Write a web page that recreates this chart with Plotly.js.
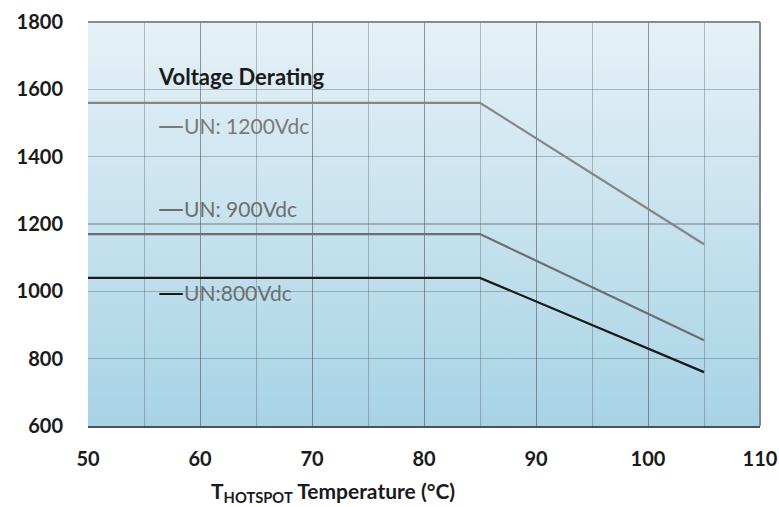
<!DOCTYPE html>
<html>
<head>
<meta charset="utf-8">
<script src="https://cdn.plot.ly/plotly-3.0.1.min.js"></script>
<style>html,body{margin:0;padding:0;background:#fff;}#chart{width:779px;height:507px;}</style>
</head>
<body>
<div id="chart"></div>
<script>
// Data
const temperature = [50, 85, 105];
const un1200 = [1560, 1560, 1140];
const un900 = [1170, 1170, 855];
const un800 = [1040, 1040, 760];
const xTicks = [50, 60, 70, 80, 90, 100, 110];
const yTicks = [600, 800, 1000, 1200, 1400, 1600, 1800];

const FONT = 'Lato, "Open Sans", sans-serif';

const svg = '<svg xmlns="http://www.w3.org/2000/svg" width="10" height="100" preserveAspectRatio="none">' +
  '<defs><linearGradient id="g" x1="0" y1="0" x2="0" y2="1">' +
  '<stop offset="0" stop-color="#e6f1f7"/><stop offset="1" stop-color="#a7d3e6"/>' +
  '</linearGradient></defs><rect width="10" height="100" fill="url(#g)"/></svg>';
const bg = 'data:image/svg+xml;charset=utf-8,' + encodeURIComponent(svg);

const traces = [
  {x: temperature, y: un1200, mode: 'lines', line: {color: '#858585', width: 2.2}, name: 'UN: 1200Vdc'},
  {x: temperature, y: un900, mode: 'lines', line: {color: '#6e6e6e', width: 2.2}, name: 'UN: 900Vdc'},
  {x: temperature, y: un800, mode: 'lines', line: {color: '#1a1a1a', width: 2.2}, name: 'UN:800Vdc'}
];

const DASH = '<span style="font-family:\'DejaVu Sans\';font-size:26px">—</span>';

const layout = {
  width: 779, height: 507,
  margin: {l: 88, r: 19, t: 22, b: 81},
  paper_bgcolor: '#ffffff',
  plot_bgcolor: 'rgba(0,0,0,0)',
  showlegend: false,
  font: {family: FONT, color: '#1a1a1a'},
  images: [{source: bg, xref: 'paper', yref: 'paper', x: 0, y: 1, sizex: 1, sizey: 1,
            sizing: 'stretch', xanchor: 'left', yanchor: 'top', layer: 'below'}],
  xaxis: {
    range: [50, 110], tickmode: 'array', tickvals: xTicks, ticktext: xTicks.map(String),
    showgrid: true, gridcolor: 'rgba(80,80,80,0.35)', gridwidth: 1,
    minor: {dtick: 5, tick0: 50, showgrid: true, gridcolor: 'rgba(80,80,80,0.35)', gridwidth: 1},
    zeroline: false, showline: true, linecolor: '#505050', linewidth: 2,
    ticks: '', ticklen: 0, ticklabelstandoff: 14,
    tickfont: {family: FONT, size: 20, color: '#1a1a1a', weight: 'bold'},
    fixedrange: true
  },
  yaxis: {
    range: [600, 1800], tickmode: 'array', tickvals: yTicks, ticktext: yTicks.map(String),
    showgrid: true, gridcolor: 'rgba(80,80,80,0.35)', gridwidth: 1.5,
    zeroline: false, showline: false, ticks: '', ticklabelstandoff: 24,
    tickfont: {family: FONT, size: 20, color: '#1a1a1a', weight: 'bold'},
    fixedrange: true
  },
  shapes: [
    {type: 'line', xref: 'paper', yref: 'paper', x0: 0, x1: 1, y0: 1, y1: 1, line: {color: '#8a8a8a', width: 2}},
    {type: 'line', xref: 'paper', yref: 'paper', x0: 1, x1: 1, y0: 0, y1: 1, line: {color: '#8a8a8a', width: 2}}
  ],
  annotations: [
    {x: 56.1, y: 1638, xref: 'x', yref: 'y', xanchor: 'left', yanchor: 'middle', showarrow: false,
     text: '<b>Voltage Derating</b>', font: {family: FONT, size: 22, color: '#1a1a1a'}},
    {x: 56.1, y: 1495, xref: 'x', yref: 'y', xanchor: 'left', yanchor: 'middle', showarrow: false,
     text: DASH + 'UN: 1200Vdc', font: {family: FONT, size: 21, color: '#7a7a7a'}},
    {x: 56.1, y: 1248, xref: 'x', yref: 'y', xanchor: 'left', yanchor: 'middle', showarrow: false,
     text: DASH + 'UN: 900Vdc', font: {family: FONT, size: 21, color: '#6e6e6e'}},
    {x: 56.1, y: 998, xref: 'x', yref: 'y', xanchor: 'left', yanchor: 'middle', showarrow: false,
     text: '<span style="color:#1a1a1a;font-family:\'DejaVu Sans\';font-size:26px">—</span>UN:800Vdc',
     font: {family: FONT, size: 21, color: '#6e6e6e'}},
    {x: 0, y: 0, xref: 'paper', yref: 'paper', showarrow: false, xanchor: 'center', yanchor: 'middle',
     text: '<b>T<sub>HOTSPOT</sub> Temperature (°C)</b>', font: {family: FONT, size: 21, color: '#1a1a1a'}}
  ]
};
// x-axis title annotation placed below the axis (converted from pixel position)
layout.annotations[4].x = (333 - 88) / (760 - 88);
layout.annotations[4].y = -(492 - 426) / (426 - 22);

Plotly.newPlot('chart', traces, layout, {displayModeBar: false, staticPlot: true});
</script>
</body>
</html>
